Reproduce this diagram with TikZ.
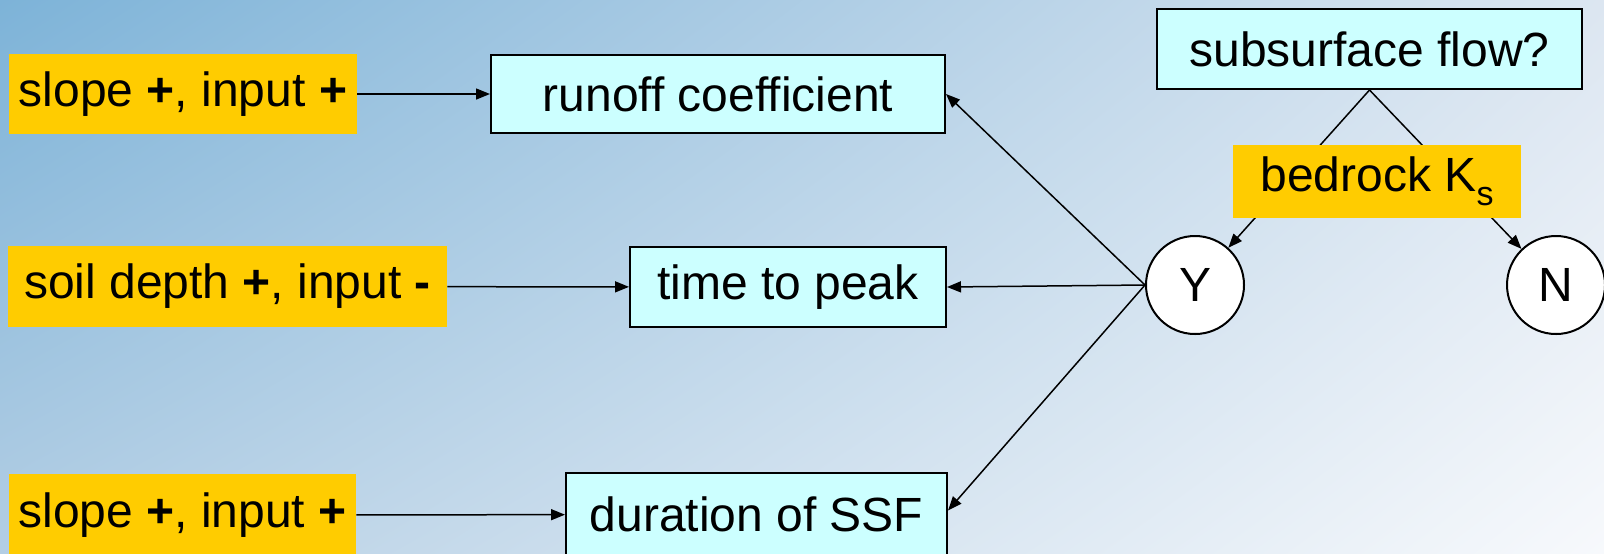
\documentclass[tikz,border=0pt]{standalone}
\usepackage{fontspec}
\setmainfont{Liberation Sans}
\usetikzlibrary{arrows.meta,shadings}
\definecolor{boxc}{HTML}{CCFFFF}
\definecolor{ylw}{HTML}{FFCC00}
\definecolor{bgUL}{HTML}{7DB3D8}
\definecolor{bgUR}{HTML}{DCE6F1}
\definecolor{bgLL}{HTML}{B3CEE4}
\definecolor{bgLR}{HTML}{F7F9FC}
\begin{document}
\begin{tikzpicture}[x=0.5pt,y=-0.5pt,
  every node/.style={font=\fontsize{24}{28}\selectfont, inner sep=0pt, text=black},
  cbox/.style={draw=black, line width=1pt, fill=boxc},
  ybox/.style={fill=ylw},
  circ/.style={circle, draw=black, line width=1pt, fill=white, minimum size=49pt},
  arr/.style={draw=black, line width=0.75pt, -{Triangle[length=7pt,width=5.5pt]}},
  ln/.style={draw=black, line width=0.75pt}
]
\useasboundingbox (0,0) rectangle (1604,553);
\shade[upper left=bgUL, upper right=bgUR, lower left=bgLL, lower right=bgLR] (0,0) rectangle (1604,553);

% yellow factor boxes
\node[ybox, minimum width=174pt, minimum height=40pt] (y1) at (183,94) {slope \textbf{+}, input \textbf{+}};
\node[ybox, minimum width=219.5pt, minimum height=40.5pt] (y2) at (227.5,286.5) {soil depth \textbf{+}, input \textbf{-}};
\node[ybox, minimum width=173.5pt, minimum height=41pt] (y3) at (182.5,515) {slope \textbf{+}, input \textbf{+}};

% response boxes
\node[cbox, minimum width=227pt, minimum height=39pt] (run) at (718,94) {runoff coefficient};
\node[cbox, minimum width=158pt, minimum height=40pt] (time) at (788,287) {time to peak};
\node[cbox, minimum width=190.5pt, minimum height=41.5pt] (dur) at (756.5,514.5) {duration of SSF};

% decision
\node[cbox, minimum width=212.5pt, minimum height=40pt] (sub) at (1369.5,49) {subsurface flow?};
\node[circ] (Y) at (1195,285) {Y};
\node[circ] (N) at (1556,285) {N};

\draw[arr] (sub.south) -- (Y);
\draw[arr] (sub.south) -- (N);
\node[ybox, minimum width=144pt, minimum height=36.5pt] (bed) at (1377,181.5) {bedrock K\raisebox{-0.3em}{\fontsize{17}{17}\selectfont s}};

% connectors
\draw[arr] (y1) -- (run);
\draw[arr] (y2) -- (time);
\draw[arr] (y3) -- (dur);
\draw[arr] (Y.west) -- (run.east);
\draw[arr] (Y.west) -- (time.east);
\draw[arr] (Y.west) -- ([yshift=2pt]dur.east);
\end{tikzpicture}
\end{document}
